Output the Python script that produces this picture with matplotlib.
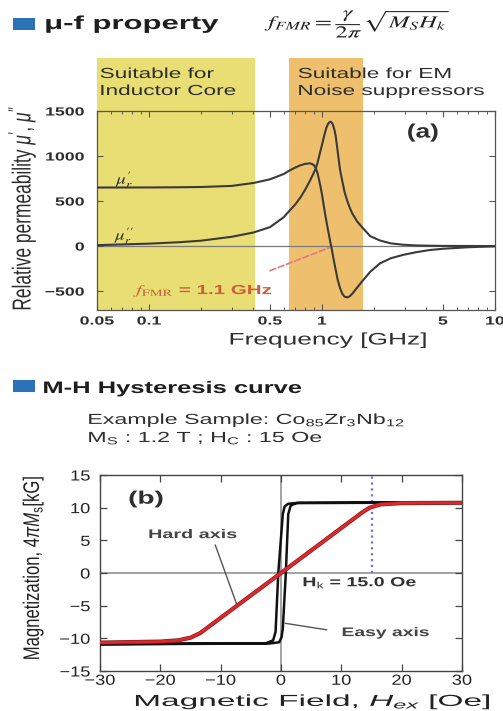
import matplotlib
matplotlib.use('Agg')
import matplotlib.pyplot as plt
from matplotlib.patches import Rectangle
from matplotlib.patheffects import AbstractPathEffect, Stroke, Normal
from matplotlib.transforms import Affine2D, blended_transform_factory

plt.rcParams['font.family'] = ['Liberation Sans', 'DejaVu Sans']
plt.rcParams['mathtext.fontset'] = 'custom'
plt.rcParams['mathtext.rm'] = 'Liberation Sans'
plt.rcParams['mathtext.it'] = 'Liberation Sans:italic'
plt.rcParams['mathtext.bf'] = 'Liberation Sans:bold'

# ---------------- data ----------------
freq_ghz = [0.05, 0.1, 0.15, 0.2, 0.3, 0.4, 0.5, 0.6, 0.65, 0.7, 0.75, 0.8,
            0.85, 0.88, 0.9, 0.92, 0.94, 0.96, 0.98, 1.0, 1.02, 1.04, 1.06,
            1.08, 1.1, 1.12, 1.14, 1.16, 1.18, 1.2, 1.23, 1.27, 1.31, 1.35,
            1.4, 1.45, 1.5, 1.6, 1.73, 1.9, 2.16, 2.5, 2.94, 3.5, 4.2, 5.0,
            7.0, 10.0]
mu_real = [650, 651, 653, 656, 668, 700, 741, 800, 840, 872, 897, 913,
           919, 910, 895, 866, 815, 740, 660, 570, 465, 365, 275,
           190, 110, 35, -40, -120, -195, -265, -370, -465, -530, -562,
           -570, -556, -527, -458, -378, -285, -193, -135, -98, -68, -44, -30,
           -13, -3]
mu_imag = [10, 27, 43, 60, 103, 150, 210, 320, 395, 462, 540, 628,
           722, 782, 822, 863, 920, 990, 1060, 1125, 1195, 1260, 1315,
           1352, 1373, 1381, 1370, 1340, 1290, 1220, 1060, 850, 720, 600,
           500, 420, 358, 270, 195, 110, 62, 30, 15, 7, 4, 2,
           1, 0]
f_fmr = 1.1
inductor_band = (0.05, 0.41)
noise_band = (0.645, 1.72)
freq_ticks = [0.05, 0.1, 0.5, 1, 5, 10]
freq_tick_labels = ['0.05', '0.1', '0.5', '1', '5', '10']
mu_ticks = [-500, 0, 500, 1000, 1500]

H_easy = [30, 3, 1.2, 0.6, 0.3, -0.45, -0.9, -1.3, -2.5, -30,
          -30, -2, -0.3, 0.1, 0.3, 0.8, 1.2, 1.6, 2.5, 30]
M_easy = [10.8, 10.75, 10.6, 10.2, 9.0, 0, -9.0, -10.3, -10.75, -10.9,
          -10.9, -10.8, -10.6, -9.8, -8.5, 0, 9.0, 10.3, 10.7, 10.8]
H_hard = [-30, -20, -17, -15, -13.4, 0, 13.5, 14.7, 16.5, 20, 30]
M_hard = [-10.65, -10.5, -10.3, -9.9, -9.2, 0, 9.3, 10.0, 10.5, 10.7, 10.75]
Hk = 15.0
H_ticks = [-30, -20, -10, 0, 10, 20, 30]
M_ticks = [-15, -10, -5, 0, 5, 10, 15]


# ---------------- helpers ----------------
class HStretch(AbstractPathEffect):
    """Stretch rendered text horizontally (screen space) like the source image."""
    def __init__(self, sx=1.5, width=None, anchor='left'):
        super().__init__()
        self.sx = sx
        self.width = width
        self.anchor = anchor

    def draw_path(self, renderer, gc, tpath, affine, rgbFace=None):
        bb = tpath.get_extents(affine)
        sx = self.sx
        if self.width is not None and bb.width > 0:
            sx = self.width / bb.width
        if self.anchor == 'left':
            X = bb.x0
        elif self.anchor == 'right':
            X = bb.x1
        else:
            X = 0.5 * (bb.x0 + bb.x1)
        t = affine + Affine2D().translate(-X, 0).scale(sx, 1).translate(X, 0)
        renderer.draw_path(gc, tpath, t, rgbFace)


W, HGT = 503, 711


def fx(px):
    return px / W


def fy(py):
    return 1 - py / HGT


fig = plt.figure(figsize=(W / 100, HGT / 100), dpi=100)
TXT = '#2e2e2e'

# ---------------- top panel ----------------
ax1 = fig.add_axes([fx(97), fy(310), (495 - 97) / W, (310 - 111) / HGT])
ax1.set_xscale('log')
ax1.set_xlim(0.05, 10)
ax1.set_ylim(-710, 1500)

blend1 = blended_transform_factory(ax1.transData, ax1.transAxes)
band_top = (310 - 58) / (310 - 111)
ax1.add_patch(Rectangle((inductor_band[0], 0), inductor_band[1] - inductor_band[0],
                        band_top, transform=blend1, clip_on=False,
                        color='#E9DE74', lw=0, zorder=0))
ax1.add_patch(Rectangle((noise_band[0], 0), noise_band[1] - noise_band[0],
                        band_top, transform=blend1, clip_on=False,
                        color='#EEC06E', lw=0, zorder=0))

ax1.axhline(0, color='#7a7a7a', lw=0.9, zorder=1)
ax1.plot(freq_ghz, mu_real, color='#3a3a3a', lw=1.5, zorder=3)
ax1.plot(freq_ghz, mu_imag, color='#3a3a3a', lw=1.5, zorder=3)

ax1.set_xticks(freq_ticks)
ax1.set_xticklabels(freq_tick_labels)
ax1.set_xticks([0.06, 0.07, 0.08, 0.09, 0.2, 0.3, 0.4, 0.6, 0.7, 0.8, 0.9,
                2, 3, 4, 6, 7, 8, 9], minor=True)
ax1.set_yticks(mu_ticks)
ax1.tick_params(axis='both', which='major', direction='in', length=4,
                width=0.8, color='#555', top=True, right=True,
                labelsize=8.5, labelcolor=TXT)
ax1.tick_params(axis='x', which='minor', direction='in', length=2.5,
                width=0.7, color='#555', top=True)
ax1.tick_params(axis='x', which='major', pad=4)
ax1.tick_params(axis='y', which='major', pad=9)
for lbl in ax1.get_xticklabels() + ax1.get_yticklabels():
    lbl.set_fontweight('bold')
for s in ax1.spines.values():
    s.set_color('#555')
    s.set_linewidth(0.9)

ax1.text(3.83, 1255, '(a)', ha='center', va='center', fontsize=14,
         fontweight='bold', color=TXT,
         path_effects=[HStretch(1.35, anchor='center')])
ax1.text(0.0726, 740, r'$\mu_r^{\prime}$', math_fontfamily='stix',
         fontsize=10.5, ha='center', va='center', color=TXT,
         path_effects=[HStretch(1.3, anchor='center')])
ax1.text(0.0726, 118, r'$\mu_r^{\prime\prime}$', math_fontfamily='stix',
         fontsize=10.5, ha='center', va='center', color=TXT,
         path_effects=[HStretch(1.3, anchor='center')])
ax1.text(0.083, -500, r'$f_{\mathrm{FMR}}$ = 1.1 GHz', math_fontfamily='stix',
         fontsize=9.5, fontweight='bold', ha='left', va='center',
         color='#C8603A', path_effects=[HStretch(width=138, anchor='left')])
ax1.annotate('', xy=(f_fmr, -18), xytext=(0.5, -274),
             arrowprops=dict(arrowstyle='-', ls='--', color='#E07A7A', lw=1.2,
                             shrinkA=0, shrinkB=0))

# band labels
for txt, x, y in [('Suitable for', 100, 74), ('Inductor Core', 100, 91),
                  ('Suitable for EM', 298, 74), ('Noise suppressors', 298, 91)]:
    fig.text(fx(x), fy(y), txt, ha='left', va='center', fontsize=10.5,
             color=TXT, path_effects=[HStretch(1.55, anchor='left')])

fig.text(fx(22), fy(208), r"Relative permeability $\mu'$, $\mu''$",
         rotation=90, ha='center', va='center', fontsize=12.5, color=TXT,
         path_effects=[HStretch(1.5, anchor='center')])
fig.text(fx(328), fy(340), 'Frequency [GHz]', ha='center', va='center',
         fontsize=12, color=TXT,
         path_effects=[HStretch(width=195, anchor='center')])

# headers
fig.add_artist(Rectangle((fx(13), fy(30)), 22 / W, 12 / HGT,
                         transform=fig.transFigure, color='#2B72B8', lw=0))
fig.text(fx(45), fy(29), 'μ-f property', ha='left', va='baseline',
         fontsize=13.5, fontweight='bold', color='#1e1e1e',
         path_effects=[HStretch(width=172, anchor='left')])
fig.text(fx(360), fy(24), r'$f_{FMR} = \dfrac{\gamma}{2\pi}\sqrt{M_S H_k}$',
         math_fontfamily='stix', fontsize=12, ha='center', va='center',
         color='#1e1e1e', path_effects=[HStretch(width=184, anchor='center')])

fig.add_artist(Rectangle((fx(13), fy(392)), 22 / W, 12 / HGT,
                         transform=fig.transFigure, color='#2B72B8', lw=0))
fig.text(fx(43), fy(393), 'M-H Hysteresis curve', ha='left', va='baseline',
         fontsize=12, fontweight='bold', color='#1e1e1e',
         path_effects=[HStretch(width=257, anchor='left')])
fig.text(fx(88), fy(424), r'Example Sample: Co$_{85}$Zr$_{3}$Nb$_{12}$',
         ha='left', va='baseline', fontsize=10.5, color=TXT,
         path_effects=[HStretch(width=314, anchor='left')])
fig.text(fx(88), fy(442), r'M$_{\mathrm{S}}$ : 1.2 T ; H$_{\mathrm{C}}$ : 15 Oe',
         ha='left', va='baseline', fontsize=10.5, color=TXT,
         path_effects=[HStretch(width=232, anchor='left')])

# ---------------- bottom panel ----------------
ax2 = fig.add_axes([fx(100), fy(671), (462 - 100) / W, (671 - 475) / HGT])
ax2.set_xlim(-30, 30)
ax2.set_ylim(-15, 15)
ax2.axhline(0, color='#8a8a8a', lw=1.1, zorder=1)
ax2.axvline(0, color='#8a8a8a', lw=1.1, zorder=1)
ax2.vlines(Hk, 0, 15, colors='#7272D2', linestyles=':', lw=1.6, zorder=2)
ax2.plot(H_easy, M_easy, color='#111111', lw=1.8, zorder=3)
ax2.plot(H_hard, M_hard, color='#E3262A', lw=2.0, zorder=4,
         path_effects=[Stroke(linewidth=3.0, foreground='#7a2020'), Normal()])

ax2.set_xticks(H_ticks)
ax2.set_yticks(M_ticks)
ax2.tick_params(axis='both', direction='in', length=5, width=0.9,
                color='#444', top=True, right=True, labelsize=10.5,
                labelcolor='#222')
ax2.tick_params(axis='x', pad=2)
ax2.tick_params(axis='y', pad=7)
for s in ax2.spines.values():
    s.set_color('#444')
    s.set_linewidth(1.0)

ax2.text(-22.4, 11.3, '(b)', ha='center', va='center', fontsize=13,
         fontweight='bold', color=TXT,
         path_effects=[HStretch(1.55, anchor='center')])
ax2.text(-14.6, 5.8, 'Hard axis', ha='center', va='center', fontsize=9,
         fontweight='bold', color='#444',
         path_effects=[HStretch(width=87, anchor='center')])
ax2.annotate('', xy=(-7.3, -4.9), xytext=(-10.9, 4.3),
             arrowprops=dict(arrowstyle='-', color='#555', lw=1.0,
                             shrinkA=0, shrinkB=0))
ax2.text(10.1, -9.2, 'Easy axis', ha='left', va='center', fontsize=9,
         fontweight='bold', color='#444',
         path_effects=[HStretch(width=86, anchor='left')])
ax2.annotate('', xy=(0.7, -7.7), xytext=(7.6, -8.7),
             arrowprops=dict(arrowstyle='-', color='#555', lw=1.0,
                             shrinkA=0, shrinkB=0))
ax2.text(3.6, -1.5, r'H$_{\mathrm{k}}$ = 15.0 Oe', ha='left', va='center',
         fontsize=9.5, fontweight='bold', color='#333',
         path_effects=[HStretch(width=112, anchor='left')])

fig.text(fx(33), fy(568), r'Magnetization, 4$\pi M_{\mathrm{s}}$[kG]',
         rotation=90, ha='center', va='center', fontsize=12, color='#222',
         path_effects=[HStretch(1.35, anchor='center')])
fig.text(fx(313), fy(706), r'Magnetic Field, $H_{ex}$ [Oe]', ha='center',
         va='baseline', fontsize=11.5, color='#222',
         path_effects=[HStretch(width=353, anchor='center')])

# stretch tick labels like the source image
fig.canvas.draw()
for lbl in ax1.get_xticklabels():
    lbl.set_path_effects([HStretch(1.5, anchor='center')])
for lbl in ax1.get_yticklabels():
    lbl.set_path_effects([HStretch(1.5, anchor='right')])
for lbl in ax2.get_xticklabels():
    lbl.set_path_effects([HStretch(1.25, anchor='center')])
for lbl in ax2.get_yticklabels():
    lbl.set_path_effects([HStretch(1.25, anchor='right')])

fig.savefig('out.png', dpi=100)
